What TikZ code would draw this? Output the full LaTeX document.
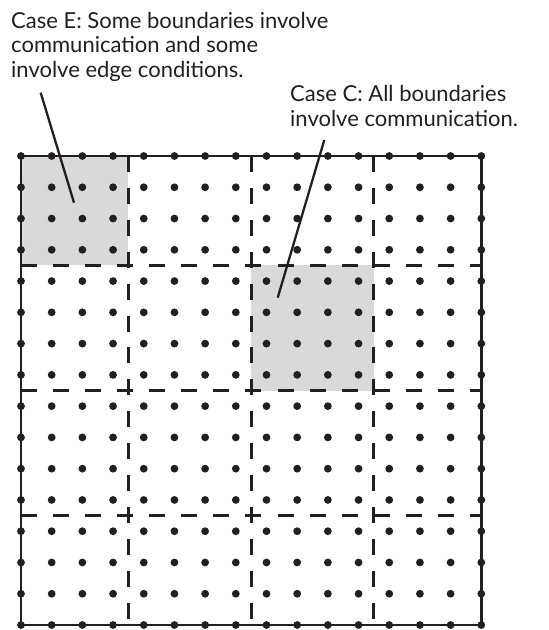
\documentclass[tikz,border=0pt]{standalone}
\usepackage{fontspec}
\setmainfont{Lato}
\definecolor{ink}{RGB}{35,31,32}
\definecolor{blockgray}{RGB}{217,217,217}
\begin{document}
\begin{tikzpicture}[x=1pt,y=-1pt,
  framebox/.style={draw=ink,line width=2.9pt},
  divh/.style={draw=ink,line width=2.9pt,dash pattern=on 16pt off 16.07pt},
  divv/.style={draw=ink,line width=2.9pt,dash pattern=on 16pt off 15.9pt},
  gridpt/.style={fill=ink},
  leader/.style={draw=ink,line width=2.3pt},
  caselabel/.style={font=\fontsize{22}{24.5}\selectfont,text=ink,anchor=base west,inner sep=0pt,align=left}]
\useasboundingbox (0,0) rectangle (549,630);
\def\dx{30.687}
\def\dy{31.267}
\coordinate (tl) at (21,156);
\coordinate (br) at (481.3,625);
% shaded blocks
\fill[blockgray] (21,156) rectangle (128.4,265.4);
\fill[blockgray] (251.15,265.4) rectangle (373.9,390.5);
% dashed block boundaries
\foreach \k in {3.5,7.5,11.5}{
  \draw[divv] ({21+\k*\dx},156) -- ({21+\k*\dx},625);
  \draw[divh] (21,{156+\k*\dy}) -- (481.3,{156+\k*\dy});
}
% frame
\draw[framebox] (tl) rectangle (br);
% grid points
\foreach \i in {0,...,15}{
  \foreach \j in {0,...,15}{
    \fill[gridpt] ({21+\i*\dx},{156+\j*\dy}) circle (3.9pt);
  }
}
% labels (base anchor = last line's baseline)
\node[caselabel] (caseE) at (11,77.3) {Case E: Some boundaries involve\\communication and some\\involve edge conditions.};
\node[caselabel] (caseC) at (290,126) {Case C: All boundaries\\involve communication.};
\coordinate (eTail) at (40.7,92.7);
\coordinate (eTip) at (74,202.7);
\coordinate (cTail) at (324.3,140);
\coordinate (cTip) at (277.7,297.7);
\draw[leader] (eTail) -- (eTip);
\draw[leader] (cTail) -- (cTip);
\end{tikzpicture}
\end{document}
